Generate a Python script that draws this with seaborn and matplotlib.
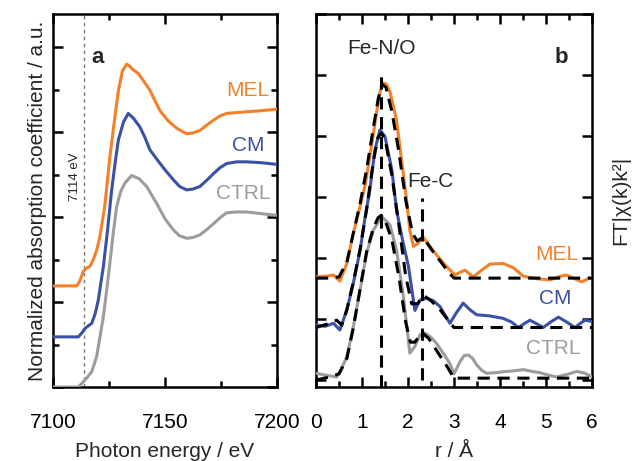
import numpy as np
import matplotlib
matplotlib.use("Agg")
import matplotlib.pyplot as plt
from matplotlib.ticker import MultipleLocator
import seaborn as sns

# ==========================================
# DATA
# ==========================================
# panel a: XANES, photon energy (eV) vs normalized absorption (offset)
e_mel = [7100, 7105, 7110.6, 7112, 7113.5, 7115, 7116.5, 7118, 7119.5, 7120.7, 7121.7,
         7123.2, 7125.4, 7127.5, 7129.2, 7131, 7132.9, 7134, 7135.5, 7138.1, 7140.5,
         7143.3, 7145.5, 7147.8, 7151.5, 7155.5, 7159.7, 7162.5, 7165.6, 7168.5, 7171.6,
         7174.5, 7177.5, 7182, 7186.5, 7192.4, 7200]
mu_mel = [1.19, 1.19, 1.19, 1.25, 1.36, 1.40, 1.42, 1.50, 1.61, 1.74, 1.89,
          2.15, 2.71, 3.15, 3.49, 3.72, 3.80, 3.78, 3.74, 3.69, 3.60,
          3.49, 3.37, 3.25, 3.13, 3.04, 2.98, 2.99, 3.02, 3.08, 3.14,
          3.19, 3.22, 3.23, 3.24, 3.25, 3.27]

e_cm = [7100, 7105, 7111.3, 7113, 7114.3, 7117.3, 7118.8, 7120.2, 7122.5, 7124.2,
        7126.2, 7127.8, 7129.2, 7131.5, 7133.6, 7136, 7138.8, 7141, 7143.3, 7147.8,
        7150.5, 7153.7, 7156.5, 7159.7, 7162.5, 7165.6, 7168.5, 7171.6, 7174.5, 7177.5,
        7182, 7186.5, 7193, 7200]
mu_cm = [0.59, 0.59, 0.59, 0.64, 0.69, 0.75, 0.86, 1.02, 1.42, 1.81,
         2.32, 2.65, 2.91, 3.12, 3.22, 3.16, 3.06, 2.94, 2.79, 2.63,
         2.54, 2.44, 2.36, 2.32, 2.33, 2.36, 2.43, 2.51, 2.58, 2.63,
         2.65, 2.65, 2.64, 2.62]

e_ctrl = [7100, 7105, 7111.3, 7113.5, 7115.5, 7117.3, 7119.5, 7122.5, 7124.7, 7126.9,
          7128.4, 7130.2, 7132.1, 7135.1, 7138.5, 7141.8, 7146.3, 7150, 7153.7, 7156.5,
          7159.7, 7162.5, 7165.6, 7168.5, 7171.6, 7174.5, 7177.5, 7182, 7186.5, 7193, 7200]
mu_ctrl = [0.0, 0.0, 0.0, 0.06, 0.12, 0.18, 0.36, 0.83, 1.30, 1.81,
           2.12, 2.30, 2.40, 2.49, 2.45, 2.36, 2.16, 1.98, 1.85, 1.78,
           1.75, 1.76, 1.79, 1.85, 1.92, 1.99, 2.05, 2.06, 2.06, 2.04, 2.02]

# panel b: EXAFS Fourier transform, r (Angstrom) vs magnitude (offset)
r_mel = [0, 0.2, 0.38, 0.52, 0.67, 0.81, 0.96, 1.07, 1.21, 1.32, 1.40, 1.46, 1.53,
         1.61, 1.75, 1.86, 1.97, 2.04, 2.12, 2.22, 2.33, 2.45, 2.62, 2.84, 3.02,
         3.12, 3.24, 3.42, 3.6, 3.78, 4.07, 4.29, 4.51, 4.8, 5.09, 5.3, 5.45, 5.62,
         5.78, 6.0]
ft_mel = [1.69, 1.70, 1.72, 1.62, 1.91, 2.40, 2.85, 3.20, 3.85, 4.40, 4.75, 4.87, 4.85,
          4.72, 4.26, 3.61, 2.95, 2.45, 2.19, 2.24, 2.34, 2.22, 2.05, 1.86, 1.72,
          1.76, 1.80, 1.69, 1.80, 1.90, 1.91, 1.84, 1.70, 1.66, 1.64, 1.70, 1.72, 1.66,
          1.61, 1.69]

r_cm = [0, 0.2, 0.38, 0.52, 0.67, 0.81, 0.96, 1.07, 1.17, 1.28, 1.39, 1.5, 1.65,
        1.75, 1.88, 2.01, 2.15, 2.26, 2.41, 2.55, 2.7, 2.91, 3.05, 3.2, 3.35, 3.49,
        3.78, 4.07, 4.25, 4.4, 4.52, 4.65, 4.8, 4.94, 5.1, 5.27, 5.45, 5.63, 5.75,
        5.85, 6.0]
ft_cm = [0.90, 0.88, 0.93, 0.82, 1.15, 1.58, 2.13, 2.68, 3.11, 3.77, 4.10, 3.99, 3.44,
         2.79, 2.30, 1.86, 1.14, 1.31, 1.34, 1.30, 1.20, 0.93, 1.10, 1.26, 1.15, 1.07,
         1.05, 1.01, 0.95, 0.86, 0.92, 0.98, 0.92, 0.86, 0.95, 1.03, 0.95, 0.86, 0.93,
         0.98, 0.96]

r_ctrl = [0, 0.2, 0.45, 0.55, 0.67, 0.81, 0.96, 1.1, 1.25, 1.43, 1.61, 1.75, 1.9,
          2.04, 2.15, 2.26, 2.37, 2.5, 2.62, 2.8, 2.91, 3.0, 3.13, 3.22, 3.31, 3.4,
          3.49, 3.6, 3.71, 3.9, 4.14, 4.3, 4.51, 4.7, 4.87, 5.05, 5.23, 5.45, 5.67,
          5.85, 6.0]
ft_ctrl = [0.11, 0.08, 0.05, 0.18, 0.38, 0.87, 1.48, 2.08, 2.46, 2.68, 2.54, 2.13, 1.37,
           0.44, 0.55, 0.74, 0.77, 0.70, 0.60, 0.40, 0.27, 0.10, 0.30, 0.40, 0.41, 0.36,
           0.25, 0.16, 0.11, 0.12, 0.14, 0.15, 0.17, 0.14, 0.12, 0.08, 0.05, 0.09, 0.14,
           0.11, 0.05]

# fits (dashed)
rfit_mel = [0, 0.3, 0.5, 0.67, 0.81, 0.96, 1.1, 1.25, 1.35, 1.43, 1.52, 1.65, 1.8,
            1.95, 2.1, 2.2, 2.33, 2.5, 2.7, 2.9, 3.0, 6.0]
fit_mel = [1.67, 1.67, 1.69, 1.93, 2.40, 2.90, 3.45, 4.15, 4.60, 4.85, 4.80, 4.40, 3.75,
           2.95, 2.40, 2.28, 2.34, 2.15, 1.95, 1.75, 1.67, 1.67]
rfit_cm = [0, 0.3, 0.45, 0.56, 0.67, 0.81, 0.96, 1.1, 1.25, 1.35, 1.42, 1.5, 1.65,
           1.8, 1.95, 2.08, 2.2, 2.35, 2.5, 2.7, 2.9, 3.0, 6.0]
fit_cm = [0.86, 0.93, 0.98, 0.90, 1.15, 1.60, 2.15, 2.80, 3.60, 3.98, 4.05, 3.95, 3.35,
          2.55, 1.70, 1.25, 1.25, 1.38, 1.30, 1.15, 0.95, 0.86, 0.86]
rfit_ctrl = [0, 0.3, 0.5, 0.67, 0.81, 0.96, 1.1, 1.25, 1.35, 1.42, 1.5, 1.65, 1.8,
             1.95, 2.05, 2.15, 2.3, 2.45, 2.65, 2.85, 3.0, 6.0]
fit_ctrl = [0.0, 0.05, 0.10, 0.35, 0.85, 1.50, 2.10, 2.50, 2.66, 2.70, 2.62, 2.30, 1.70,
            0.95, 0.62, 0.62, 0.78, 0.68, 0.45, 0.22, 0.03, 0.03]

samples = ['MEL', 'CM', 'CTRL']
colors = {'MEL': '#F5802A', 'CM': '#3A51A6', 'CTRL': '#9C9C9C'}

# ==========================================
# STYLE
# ==========================================
sns.set_style("ticks")
plt.rcParams['font.family'] = ['Liberation Sans', 'DejaVu Sans']
plt.rcParams['font.size'] = 15

fig = plt.figure(figsize=(6.33, 4.61), dpi=100)
ax1 = fig.add_axes([53 / 633, 1 - 387 / 461, 224 / 633, 373 / 461])
ax2 = fig.add_axes([316 / 633, 1 - 387 / 461, 276 / 633, 373 / 461])

dash = (0, (4, 2.5))

# ==========================================
# PANEL a
# ==========================================
xanes = {'MEL': (e_mel, mu_mel), 'CM': (e_cm, mu_cm), 'CTRL': (e_ctrl, mu_ctrl)}
ax1.axvline(7114, color='#777777', lw=1, ls=(0, (2.5, 2.5)), zorder=1)
for s in samples:
    x, y = xanes[s]
    sns.lineplot(x=x, y=y, color=colors[s], lw=2.2, ax=ax1, zorder=3)

ax1.set_xlim(7100, 7200)
ax1.set_ylim(0, 4.39)
ax1.xaxis.set_major_locator(MultipleLocator(50))
ax1.xaxis.set_minor_locator(MultipleLocator(25))
ax1.yaxis.set_major_locator(MultipleLocator(1))
ax1.yaxis.set_minor_locator(MultipleLocator(0.5))
ax1.set_yticklabels([])
ax1.set_xlabel("Photon energy / eV", fontsize=15, labelpad=7)
ax1.set_ylabel("Normalized absorption coefficient / a.u.", fontsize=15, labelpad=4)

ax1.text(7110, 2.47, "7114 eV", rotation=90, fontsize=9.5, ha='center', va='center')
ax1.text(7120, 3.88, "a", fontsize=16, fontweight='bold', ha='center', va='center')
ax1.text(7187, 3.49, "MEL", color=colors['MEL'], fontsize=15, ha='center', va='center')
ax1.text(7187, 2.84, "CM", color=colors['CM'], fontsize=15, ha='center', va='center')
ax1.text(7185, 2.28, "CTRL", color=colors['CTRL'], fontsize=15, ha='center', va='center')

# ==========================================
# PANEL b
# ==========================================
exafs = {'MEL': (r_mel, ft_mel, rfit_mel, fit_mel),
         'CM': (r_cm, ft_cm, rfit_cm, fit_cm),
         'CTRL': (r_ctrl, ft_ctrl, rfit_ctrl, fit_ctrl)}
for s in samples:
    x, y, xf, yf = exafs[s]
    sns.lineplot(x=x, y=y, color=colors[s], lw=2.2, ax=ax2, zorder=3)
    sns.lineplot(x=xf, y=yf, color='black', lw=2.2, ls=dash, ax=ax2, zorder=4)

ax2.plot([1.41, 1.41], [-0.12, 5.08], color='black', lw=2.2, ls=dash, zorder=5)
ax2.plot([2.30, 2.30], [0.0, 2.98], color='black', lw=2.2, ls=dash, zorder=5)

ax2.set_xlim(0, 6)
ax2.set_ylim(-0.115, 6.0)
ax2.xaxis.set_major_locator(MultipleLocator(1))
ax2.xaxis.set_minor_locator(MultipleLocator(0.5))
ax2.yaxis.set_major_locator(MultipleLocator(1))
ax2.set_yticklabels([])
ax2.set_xlabel("r / Å", fontsize=15, labelpad=7)
ax2.yaxis.set_label_position('right')
ax2.set_ylabel("FT|χ(k)k²|", fontsize=15, labelpad=14)

ax2.text(1.43, 5.44, "Fe-N/O", fontsize=15, ha='center', va='center')
ax2.text(2.48, 3.25, "Fe-C", fontsize=15, ha='center', va='center')
ax2.text(5.34, 5.28, "b", fontsize=16, fontweight='bold', ha='center', va='center')
ax2.text(5.24, 2.05, "MEL", color=colors['MEL'], fontsize=15, ha='center', va='center')
ax2.text(5.20, 1.34, "CM", color=colors['CM'], fontsize=15, ha='center', va='center')
ax2.text(5.15, 0.51, "CTRL", color=colors['CTRL'], fontsize=15, ha='center', va='center')

for ax in (ax1, ax2):
    for sp in ax.spines.values():
        sp.set_linewidth(1.8)
        sp.set_color('black')
    ax.tick_params(which='both', direction='in', top=True, right=True,
                   width=1.8, color='black', labelsize=15, labelcolor='black', pad=19)
    ax.tick_params(which='major', length=7.5)
    ax.tick_params(which='minor', length=4)
    ax.tick_params(axis='y', which='both', left=True, right=True, labelleft=False)

ax2.tick_params(axis='y', which='both', labelright=False)

fig.savefig("out.png", dpi=100)
